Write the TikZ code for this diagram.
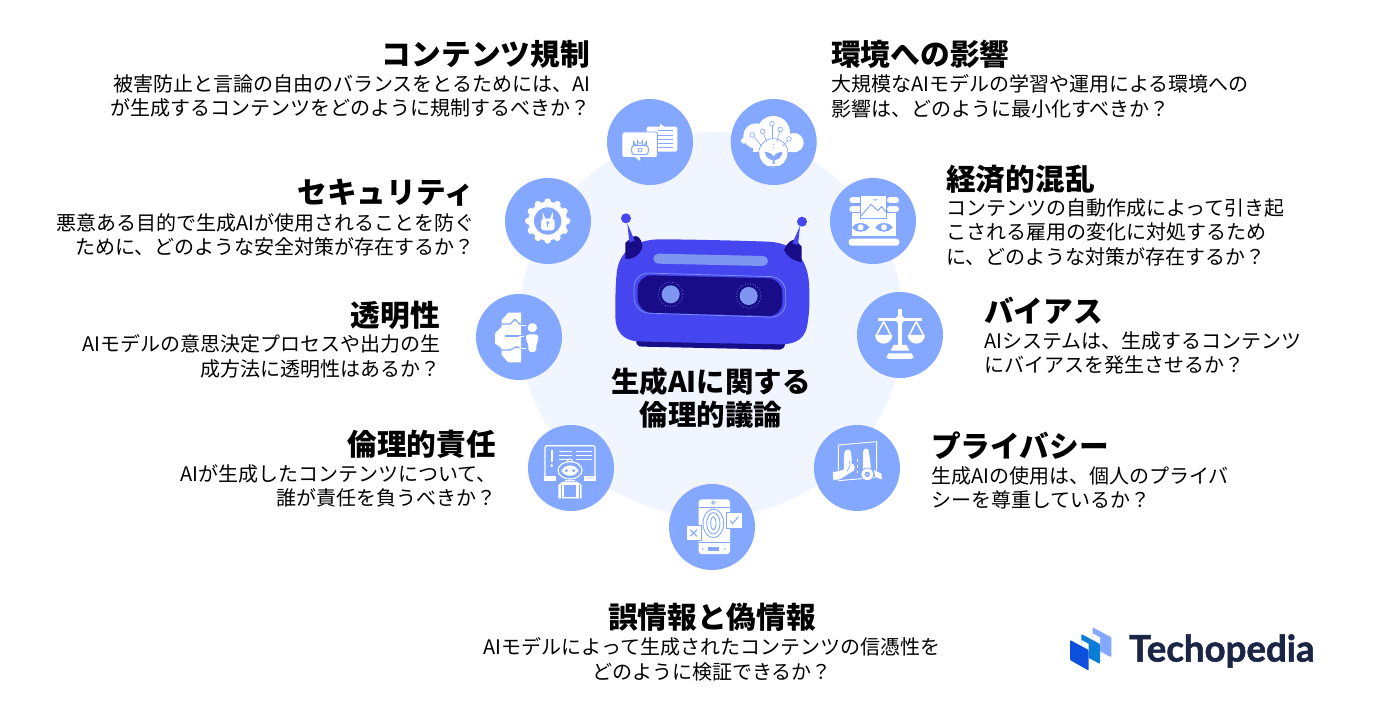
\documentclass[tikz,border=0pt]{standalone}
\usepackage{fontspec}
\setmainfont{Noto Sans CJK JP}
\newfontfamily\logofont{Lato}[BoldFeatures={FakeBold=1.5}]
\definecolor{halo}{HTML}{F0F5FF}
\definecolor{circ}{HTML}{84A7FF}
\definecolor{rob}{HTML}{4646F0}
\definecolor{robd}{HTML}{180C88}
\definecolor{robl}{HTML}{7F96F0}
\definecolor{logotxt}{HTML}{1B2545}
\definecolor{logomid}{HTML}{0B7DD6}
\definecolor{logodark}{HTML}{0B4FDC}
\newcommand{\bodyst}{\rule{0pt}{16pt}}
\tikzset{
  badge/.style={circle,fill=circ,minimum size=86pt,inner sep=0pt},
  head/.style={inner sep=0pt,font=\fontsize{29.7}{34}\selectfont\bfseries},
  headL/.style={head,anchor=west},
  headR/.style={head,anchor=east},
  txt/.style={inner sep=0pt,font=\fontsize{20}{24.8}\selectfont},
  txtL/.style={txt,anchor=north west,align=left},
  txtR/.style={txt,anchor=north east,align=right},
  txtC/.style={txt,anchor=north,align=center},
  zoomed/.style={x=.33333pt,y=-.33333pt},
  cl/.style={draw=circ,line width=.9pt},
  wl/.style={draw=white,line width=.9pt},
}
\begin{document}
\begin{tikzpicture}[x=1pt,y=-1pt]
\useasboundingbox (0,0) rectangle (1390,719);
\fill[white] (0,0) rectangle (1390,719);
\fill[halo] (711,324.5) circle[radius=192.5];

\node[badge] (b1) at (650,142) {};
\node[badge] (b2) at (773.7,142) {};
\node[badge] (b3) at (873,221) {};
\node[badge] (b4) at (900,335) {};
\node[badge] (b5) at (857,468) {};
\node[badge] (b6) at (712,527) {};
\node[badge] (b7) at (571,468) {};
\node[badge] (b8) at (519,337) {};
\node[badge] (b9) at (548,221) {};

% robot
\begin{scope}[shift={(590,200)},zoomed]
\fill[robd] (138,420) -- (140,432) .. controls (145,440) and (150,440) .. (160,440) -- (570,449) .. controls (578,449) and (584,442) .. (586,430) -- cycle;
\fill[rob] (205,118) .. controls (300,118) and (450,122) .. (535,125) .. controls (610,128) and (652,175) .. (657,250) .. controls (660,300) and (658,340) .. (652,375) .. controls (645,415) and (620,432) .. (575,433) .. controls (400,430) and (280,428) .. (140,424) .. controls (100,420) and (76,395) .. (76,350) .. controls (76,300) and (76,260) .. (80,220) .. controls (85,160) and (130,120) .. (205,118) -- cycle;
\fill[robd] (106,128) .. controls (118,122) and (122,108) .. (138,108) .. controls (150,110) and (160,130) .. (156,145) .. controls (150,165) and (130,178) .. (106,177) -- cycle;
\fill[robd] (635,140) -- (635,187) .. controls (610,182) and (590,170) .. (582,150) .. controls (590,130) and (605,115) .. (620,120) .. controls (625,130) and (630,135) .. (635,140) -- cycle;
\fill[rob] (112,70) -- (134,122) -- (118,127) -- cycle;
\fill[rob] (630,78) -- (624,135) -- (607,130) -- cycle;
\fill[rob] (108,55) circle[radius=15];
\fill[rob] (636,65) circle[radius=15];
\draw[robl,line width=10pt,line cap=round] (205,176) -- (519,183);
\draw[robl,line width=.7pt,rounded corners=15pt] (132,218) -- (587,231) -- (587,353) -- (132,338) -- cycle;
\fill[robd,rounded corners=14pt] (143,225) -- (577,236) -- (577,349) -- (143,337) -- cycle;
\fill[robl] (242,283) circle[radius=27];
\fill[robl] (476,288) circle[radius=27];
\draw[robl,line width=.7pt,dotted] (242,283) circle[radius=37];
\draw[robl,line width=.7pt,dotted] (476,288) circle[radius=37];
\end{scope}

% icon 1 content regulation
\begin{scope}[shift={(590,90)},zoomed]
\fill[white] (210,100) -- (224,112) -- (210,112) -- cycle;
\fill[white,rounded corners=2pt] (170,110) rectangle (262,185);
\foreach \y in {122,135,148,160,172} \draw[cl,line width=.8pt] (205,\y) -- (250,\y);
\fill[white,rounded corners=2pt,draw=circ,line width=.9pt] (96,126) rectangle (202,203);
\fill[white] (135,201) -- (150,213) -- (150,201) -- cycle;
\draw[cl,line width=1.1pt] (131,167) -- (131,152) arc[start angle=180,end angle=0,radius=19] -- (169,167);
\draw[cl,line width=.9pt] (142,167) -- (142,152) arc[start angle=180,end angle=0,radius=8] -- (158,167);
\draw[cl,line width=1.1pt,fill=white,rounded corners=3pt] (125,166) rectangle (175,194);
\draw[cl,line width=.8pt] (150,180) circle[radius=6];
\end{scope}

% icon 2 environment
\begin{scope}[shift={(590,90)},zoomed]
\fill[white] (498,138) circle[radius=38] (550,128) circle[radius=50] (612,158) circle[radius=29];
\fill[white] (490,140) rectangle (620,186);
\fill[white] (470,152) circle[radius=9];
\fill[white] (462,152) circle[radius=9];
\draw[cl,line width=.7pt] (550,190) circle[radius=44];
\fill[white] (550,190) circle[radius=42];
\fill[white] (546,101) circle[radius=11];
\foreach \a/\b/\c/\d in {487/135/515/168,518/124/530/155,546/101/546/148,571/118/560/155,597/147/578/168}
  \draw[cl,line width=.6pt] (\a,\b) -- (\c,\d);
\foreach \a/\b in {487/135,518/124,546/101,571/118,597/147}{
  \fill[white] (\a,\b) circle[radius=7];
  \draw[cl,line width=.6pt] (\a,\b) circle[radius=7];}
\fill[circ] (551,163) circle[radius=2] (551,174) circle[radius=2];
\fill[circ] (525,185) .. controls (535,185) and (545,190) .. (551,200) .. controls (557,190) and (567,185) .. (577,185) .. controls (577,200) and (565,210) .. (554,210) -- (554,222) -- (548,222) -- (548,210) .. controls (537,210) and (525,200) .. (525,185) -- cycle;
\draw[cl,line width=1.2pt] (538,230) -- (566,230);
\end{scope}

% icon 3 economy
\begin{scope}[shift={(590,90)},zoomed]
\fill[white] (787,368) rectangle (917,438);
\fill[white,rounded corners=3pt] (776,446) rectangle (928,467);
\foreach \y in {331,358}{
  \draw[white,line width=6pt,line cap=round] (787,\y) -- (805,\y);
  \draw[white,line width=6pt,line cap=round] (900,\y) -- (918,\y);}
\fill[white,draw=circ,line width=.9pt] (812,315) rectangle (890,385);
\draw[cl,line join=round,line width=1pt] (813,378) -- (843,343) -- (863,362) -- (875,350) -- (890,368);
\draw[cl,line width=.7pt] (850,327) -- (856,331) -- (862,327);
\foreach \x in {812,882}{
  \fill[circ] (\x-26,412) .. controls (\x-12,394) and (\x+12,394) .. (\x+26,412) .. controls (\x+12,430) and (\x-12,430) .. (\x-26,412) -- cycle;
  \fill[white] (\x,412) circle[radius=9];}
\end{scope}

% icon 4 scales
\begin{scope}[shift={(840,280)},zoomed]
\fill[white] (174,88) rectangle (186,205);
\fill[white] (113,113) rectangle (247,122);
\fill[white] (180,118) circle[radius=13];
\fill[white] (160,195) -- (200,195) -- (208,212) -- (152,212) -- cycle;
\fill[white,rounded corners=3pt] (140,237) -- (140,228) .. controls (145,220) and (215,220) .. (220,228) -- (220,237) -- cycle;
\foreach \x in {131,229}{
  \draw[white,line width=1.6pt,line join=round] (\x-21,165) -- (\x,125) -- (\x+21,165);
  \fill[white] (\x-26,165) -- (\x+26,165) arc[start angle=0,end angle=180,radius=26] -- cycle;}
\end{scope}

% icon 5 privacy
\begin{scope}[shift={(825,430)},zoomed]
\draw[wl,line join=miter] (40,45) -- (155,35) -- (155,142) -- (40,152) -- cycle;
\fill[white,draw=circ,line width=.6pt] (57,68) .. controls (59,54) and (78,54) .. (80,68) -- (81,100) .. controls (90,100) and (92,114) .. (88,122) -- (46,149) -- (24,151) -- (22,126) -- (42,122) -- (55,118) -- cycle;
\draw[cl,line width=.7pt] (66,124) .. controls (74,112) and (78,105) .. (73,94);
\fill[white] (114,66) .. controls (116,52) and (130,52) .. (132,66) -- (138,116) -- (114,118) -- cycle;
\fill[white,draw=circ,line width=.6pt] (145,118) -- (170,130) -- (172,150) -- (150,142) -- cycle;
\draw[white,line width=1pt,dashed] (96,86) -- (96,128);
\draw[circ,fill=white,line width=.7pt] (127,133) circle[radius=19];
\fill[circ] (127,133) circle[radius=8];
\fill[white] (127,133) circle[radius=2.5];
\end{scope}

% icon 6 misinformation
\begin{scope}[shift={(680,490)},zoomed]
\fill[white,rounded corners=3pt] (56,28) rectangle (150,192);
\draw[cl,line width=.8pt] (56,52) -- (150,52);
\draw[cl,line width=.8pt] (56,158) -- (150,158);
\draw[cl,line width=.8pt] (100,38) circle[radius=5];
\draw[cl,line width=.9pt] (100,100) ellipse[x radius=31,y radius=43];
\draw[cl,line width=.9pt] (100,100) ellipse[x radius=20,y radius=32];
\draw[cl,line width=.9pt] (100,100) ellipse[x radius=8,y radius=20];
\draw[white,line width=1pt] (100,85) -- (100,112);
\fill[circ] (84,172) rectangle (118,183);
\fill[circ] (68,177) circle[radius=2.5] (135,177) circle[radius=2.5];
\fill[white,draw=circ,line width=.8pt] (138,68) rectangle (186,114);
\draw[cl,line width=1.1pt] (150,92) -- (158,101) -- (175,80);
\fill[white,draw=circ,line width=.8pt] (18,106) rectangle (64,152);
\draw[cl,line width=1.1pt] (31,119) -- (51,139) (51,119) -- (31,139);
\end{scope}

% icon 7 ethics
\begin{scope}[shift={(535,435)},zoomed]
\draw[white,line width=1.2pt,rounded corners=2pt] (30,32) rectangle (180,130);
\fill[white] (28,123) rectangle (182,138);
\fill[circ] (160,129) circle[radius=2] (168,129) circle[radius=2] (176,129) circle[radius=2];
\fill[white] (47,45) rectangle (54,80);
\fill[white] (50,92) circle[radius=4.5];
\foreach \y in {48,60,72}{
  \draw[white,line width=1pt] (72,\y) -- (112,\y);
  \draw[white,line width=1pt] (122,\y) -- (172,\y);}
\fill[circ] (62,76) rectangle (148,145);
\draw[white,line width=1pt,fill=circ] (105,80) circle[radius=8];
\draw[white,line width=1.1pt,fill=circ] (105,106) ellipse[x radius=36,y radius=26];
\fill[white,rounded corners=7pt] (80,92) rectangle (130,122);
\fill[circ] (94,107) circle[radius=5] (116,107) circle[radius=5];
\fill[circ] (65,138) rectangle (148,195);
\draw[white,line width=1pt] (90,135) -- (120,135);
\fill[white] (70,190) -- (70,150) -- (84,140) -- (126,140) -- (140,150) -- (140,190) -- cycle;
\draw[circ,line width=.7pt] (78,190) -- (78,150) (132,190) -- (132,150);
\fill[circ] (88,150) rectangle (122,190);
\fill[white] (86,186) rectangle (124,190);
\end{scope}

% icon 8 transparency
\begin{scope}[shift={(460,170)},zoomed]
\fill[white] (183,428) -- (145,428) -- (125,450) -- (125,470) -- (105,490) -- (105,520) -- (125,535) -- (125,555) -- (145,577) -- (183,577) -- cycle;
\draw[cl,line width=1.2pt,line join=round] (125,462) -- (150,462) -- (165,448) -- (185,468);
\draw[cl,line width=1.2pt,line join=round] (135,498) -- (190,498);
\draw[cl,line width=1.2pt,line join=round] (125,540) -- (150,540) -- (170,530) -- (185,538);
\draw[white,line width=1.3pt] (178,467) -- (198,467);
\draw[white,line width=1.3pt] (178,499) -- (192,499);
\draw[white,line width=1.3pt] (178,536) -- (198,536);
\fill[white] (217,473) circle[radius=14];
\fill[white,rounded corners=3pt] (198,493) -- (235,493) -- (235,512) -- (229,518) -- (229,546) -- (205,546) -- (205,518) -- (198,512) -- cycle;
\end{scope}

% icon 9 security
\begin{scope}[shift={(460,170)},zoomed]
\foreach \a in {0,30,...,330}
  \fill[white] ({263+58*cos(\a)},{153+58*sin(\a)}) circle[radius=10];
\fill[white] (263,153) circle[radius=58];
\fill[circ] (263,153) circle[radius=41];
\draw[white,line width=1.6pt] (250,145) -- (250,138) arc[start angle=180,end angle=0,radius=13] -- (276,145);
\fill[white,rounded corners=3pt] (243,146) rectangle (284,181);
\fill[circ] (263,158) circle[radius=5];
\fill[circ] (261,158) rectangle (265,170);
\end{scope}

% texts
\node[headR] (t1) at (590,54) {コンテンツ規制};
\node[txtR] (d1) at (591,74) {\bodyst 被害防止と言論の自由のバランスをとるためには、AI\\が生成するコンテンツをどのように規制するべきか？};
\node[headL] (t2) at (831,54) {環境への影響};
\node[txtL] (d2) at (831,74) {\bodyst 大規模なAIモデルの学習や運用による環境への\\影響は、どのように最小化すべきか？};
\node[headL] (t3) at (946,179) {経済的混乱};
\node[txtL] (d3) at (946,198) {\bodyst コンテンツの自動作成によって引き起\\こされる雇用の変化に対処するため\\に、どのような対策が存在するか？};
\node[headL] (t4) at (984,311) {バイアス};
\node[txtL] (d4) at (984,331) {\bodyst AIシステムは、生成するコンテンツ\\にバイアスを発生させるか？};
\node[headL] (t5) at (931,446) {プライバシー};
\node[txtL] (d5) at (931,466) {\bodyst 生成AIの使用は、個人のプライバ\\シーを尊重しているか？};
\node[headR] (t6) at (474,193) {セキュリティ};
\node[txtR] (d6) at (475,213) {\bodyst 悪意ある目的で生成AIが使用されることを防ぐ\\ために、どのような安全対策が存在するか？};
\node[headR] (t7) at (440,315) {透明性};
\node[txtR] (d7) at (441,334) {\bodyst AIモデルの意思決定プロセスや出力の生\\成方法に透明性はあるか？};
\node[headR] (t8) at (496,444) {倫理的責任};
\node[txtR] (d8) at (497,464) {\bodyst AIが生成したコンテンツについて、\\誰が責任を負うべきか？};
\node[head,anchor=center] (t9) at (712,617) {誤情報と偽情報};
\node[txtC] (d9) at (712,637) {\bodyst AIモデルによって生成されたコンテンツの信憑性を\\どのように検証できるか？};
\node[head,align=center,anchor=center,font=\fontsize{28.5}{33.5}\selectfont\bfseries] (c) at (711,398) {生成AIに関する\\倫理的議論};

% logo
\begin{scope}[shift={(1050,610)},zoomed]
\fill[circ,rounded corners=1pt] (128,52) -- (184,82) -- (184,142) -- (128,112) -- cycle;
\fill[white] (128,70) -- (150,82) -- (150,160) -- (128,148) -- cycle;
\fill[logomid,rounded corners=1pt] (94,72) -- (150,102) -- (150,162) -- (94,132) -- cycle;
\fill[white] (94,90) -- (116,102) -- (116,180) -- (94,168) -- cycle;
\fill[logodark,rounded corners=1pt] (60,90) -- (116,120) -- (116,182) -- (60,150) -- cycle;
\end{scope}
\node[inner sep=0pt,anchor=west,text=logotxt,font=\logofont\fontsize{36.6}{40}\selectfont\bfseries] (logo) at (1129,651) {Techopedia};
\end{tikzpicture}
\end{document}
